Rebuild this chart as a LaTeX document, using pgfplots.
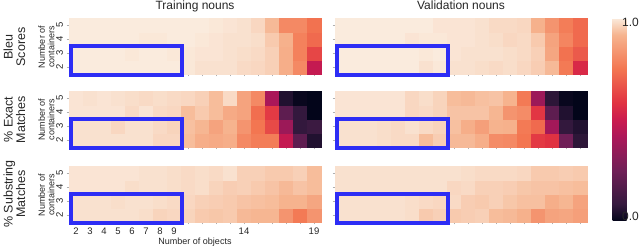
\documentclass[border=0pt]{standalone}
\usepackage{pgfplots}
\pgfplotsset{compat=1.18}
\usepackage{pgfplotstable}
\usepackage{fontspec}
\setmainfont{Liberation Sans}
\definecolor{hlblue}{RGB}{45,45,245}
\definecolor{tickgray}{RGB}{175,175,175}
\pgfplotsset{
  colormap={rocket}{rgb255(0pt)=(3,5,26); rgb255(83pt)=(53,25,62); rgb255(250pt)=(112,31,87); rgb255(417pt)=(173,23,89); rgb255(500pt)=(203,27,79); rgb255(583pt)=(225,51,66); rgb255(750pt)=(243,118,81); rgb255(917pt)=(246,180,143); rgb255(1000pt)=(250,235,221)},
  hm/.style={
    scale only axis, width=252pt, height=56pt,
    xmin=1.5, xmax=19.5, ymin=1.5, ymax=5.5,
    clip=false, axis line style={draw=none},
    tick align=outside, tick pos=left,
    major tick length=2.5pt,
    tick style={tickgray, line width=0.5pt},
    xtick={2,...,19}, ytick={2,3,4,5},
    xticklabels={}, yticklabels={},
    colormap name=rocket, point meta min=0, point meta max=1,
    /pgf/number format/assume math mode=true,
    ticklabel style={font=\fontsize{9.5}{10}\selectfont, text=black!85},
    anchor=north west,
  },
  cell/.style={only marks, scatter, mark=square*, mark size=7pt, point meta=explicit,
    scatter/use mapped color={draw=mapped color, fill=mapped color, line width=0.6pt}},
}
% columns: number of objects, then value for 2,3,4,5 containers
\pgfplotstableread{
x c2 c3 c4 c5
2 1 1 1 1
3 1 1 1 1
4 1 1 1 1
5 1 1 1 1
6 1 .995 1 1
7 1 1 .995 1
8 1 1 .995 1
9 1 .995 1 1
10 .995 .995 1 1
11 .985 .99 .995 1
12 .985 .99 .99 .995
13 .985 .985 .985 .99
14 .975 .98 .985 .985
15 .97 .975 .98 .97
16 .96 .96 .95 .925
17 .90 .90 .91 .80
18 .80 .78 .78 .80
19 .48 .63 .72 .74
}\bleuT
\pgfplotstableread{
x c2 c3 c4 c5
2 1 1 1 1
3 1 1 1 1
4 1 1 1 1
5 1 1 1 1
6 1 1 1 1
7 1 1 .99 1
8 .985 .995 .995 1
9 .995 1 .995 .99
10 .985 .99 .99 .99
11 .985 .985 .99 .99
12 .98 .985 .985 .985
13 .975 .985 .98 .975
14 .98 .98 .97 .975
15 .97 .975 .975 .97
16 .955 .96 .95 .91
17 .925 .88 .87 .83
18 .76 .74 .79 .77
19 .55 .68 .72 .72
}\bleuV
\pgfplotstableread{
x c2 c3 c4 c5
2 .985 .985 .99 .99
3 .985 .985 .99 .985
4 .985 .985 .99 .99
5 .985 .97 .99 .985
6 .985 .985 .975 .98
7 .985 .985 .99 .975
8 .97 .975 .975 .98
9 .97 .965 .97 .975
10 .93 .935 .93 .97
11 .90 .92 .95 .96
12 .89 .87 .93 .93
13 .90 .915 .89 .975
14 .80 .83 .87 .87
15 .77 .75 .73 .80
16 .77 .64 .60 .41
17 .48 .37 .20 .05
18 .20 .08 .08 .01
19 .05 .10 0 0
}\exactT
\pgfplotstableread{
x c2 c3 c4 c5
2 .985 .985 .99 .99
3 .985 .985 .99 .99
4 .985 .985 .99 .99
5 .98 .98 .99 .99
6 .975 .975 .99 .99
7 .975 .985 .97 .97
8 .93 .975 .975 .98
9 .955 .965 .965 .965
10 .925 .935 .94 .93
11 .925 .90 .94 .925
12 .90 .86 .94 .935
13 .81 .915 .92 .94
14 .80 .91 .83 .915
15 .75 .76 .81 .76
16 .60 .72 .59 .37
17 .58 .39 .20 .07
18 .25 .08 .05 .01
19 .07 .05 0 0
}\exactV
\pgfplotstableread{
x c2 c3 c4 c5
2 .985 .985 .99 .99
3 .985 .985 .99 .99
4 .985 .985 .99 .99
5 .985 .98 .99 .99
6 .985 .985 .98 .99
7 .98 .985 .985 .985
8 .965 .98 .985 .985
9 .97 .975 .98 .98
10 .965 .97 .975 .975
11 .95 .96 .98 .98
12 .945 .955 .965 .975
13 .95 .95 .955 .985
14 .925 .94 .96 .96
15 .92 .935 .95 .96
16 .92 .93 .94 .95
17 .83 .915 .925 .95
18 .76 .915 .94 .96
19 .83 .88 .93 .93
}\subT
\pgfplotstableread{
x c2 c3 c4 c5
2 .985 .985 .985 .985
3 .985 .985 .985 .985
4 .985 .985 .985 .985
5 .985 .985 .985 .985
6 .985 .985 .985 .985
7 .98 .98 .985 .985
8 .95 .975 .985 .985
9 .96 .97 .985 .985
10 .95 .975 .97 .985
11 .955 .955 .975 .98
12 .96 .95 .96 .975
13 .93 .96 .96 .975
14 .925 .945 .955 .975
15 .91 .935 .945 .97
16 .83 .935 .94 .95
17 .87 .90 .94 .95
18 .88 .92 .935 .955
19 .86 .87 .93 .95
}\subV
\newcommand{\cells}[1]{%
  \addplot[cell] table[x=x, y expr=2, meta=c2] {#1};
  \addplot[cell] table[x=x, y expr=3, meta=c3] {#1};
  \addplot[cell] table[x=x, y expr=4, meta=c4] {#1};
  \addplot[cell] table[x=x, y expr=5, meta=c5] {#1};
}
\begin{document}
\begin{tikzpicture}
\path[use as bounding box] (0,0) rectangle (640pt,-248pt);
% row 1
\begin{axis}[hm, name=a1, at={(69pt,-18pt)}, yticklabels={2,3,4,5}, yticklabel style={rotate=90, anchor=south}]
\cells{\bleuT}
\end{axis}
\begin{axis}[hm, name=a2, at={(335pt,-18pt)},
  colorbar, colorbar style={at={(parent axis.north east)}, anchor=north west, xshift=17pt, width=14pt, height=203pt, scale only axis, ytick=\empty, xtick=\empty, axis line style={draw=none}}]
\cells{\bleuV}
\end{axis}
% row 2
\begin{axis}[hm, name=a3, at={(69pt,-91pt)}, yticklabels={2,3,4,5}, yticklabel style={rotate=90, anchor=south}]
\cells{\exactT}
\end{axis}
\begin{axis}[hm, name=a4, at={(335pt,-91pt)}]
\cells{\exactV}
\end{axis}
% row 3
\begin{axis}[hm, name=a5, at={(69pt,-166pt)}, yticklabels={2,3,4,5}, yticklabel style={rotate=90, anchor=south},
  xticklabels={2,3,4,5,6,7,8,9,{},{},{},{},14,{},{},{},{},19}]
\cells{\subT}
\end{axis}
\begin{axis}[hm, name=a6, at={(335pt,-166pt)}]
\cells{\subV}
\end{axis}
% highlight boxes: objects 2-9, containers 2-3 (1 unit = 14pt)
\foreach \a in {a1,a2,a3,a4,a5,a6}{
  \draw[hlblue, line width=4pt] ([shift={(1.7pt,-1.1pt)}]\a.south west) rectangle ([shift={(112.8pt,27.6pt)}]\a.south west);
}
% titles and labels
\node[font=\fontsize{12}{14}\selectfont, anchor=base, text=black!85] at (195pt,-9.5pt) {Training nouns};
\node[font=\fontsize{12}{14}\selectfont, anchor=base, text=black!85] at (461pt,-9.5pt) {Validation nouns};
\node[rotate=90, align=center, font=\fontsize{12.5}{12.5}\selectfont, text=black!85] at (14.5pt,-47pt) {Bleu\\Scores};
\node[rotate=90, align=center, font=\fontsize{12.5}{12.5}\selectfont, text=black!85] at (14.5pt,-119.5pt) {\% Exact\\Matches};
\node[rotate=90, align=center, font=\fontsize{12.5}{12.5}\selectfont, text=black!85] at (14.5pt,-194pt) {\% Substring\\Matches};
\foreach \yc in {47,119.5,195}{
  \node[rotate=90, align=center, font=\fontsize{9}{9.5}\selectfont, text=black!85] at (46.5pt,-\yc pt) {Number of\\containers};
}
\node[font=\fontsize{9}{10}\selectfont, anchor=base, text=black!85] at (195pt,-244.5pt) {Number of objects};
\node[font=\fontsize{12}{14}\selectfont, anchor=base west, inner sep=0pt, text=black!85] at (622pt,-26.7pt) {1.0};
\node[font=\fontsize{12}{14}\selectfont, anchor=base west, inner sep=0pt, text=black!85] at (622pt,-220.5pt) {0.0};
\end{tikzpicture}
\end{document}
